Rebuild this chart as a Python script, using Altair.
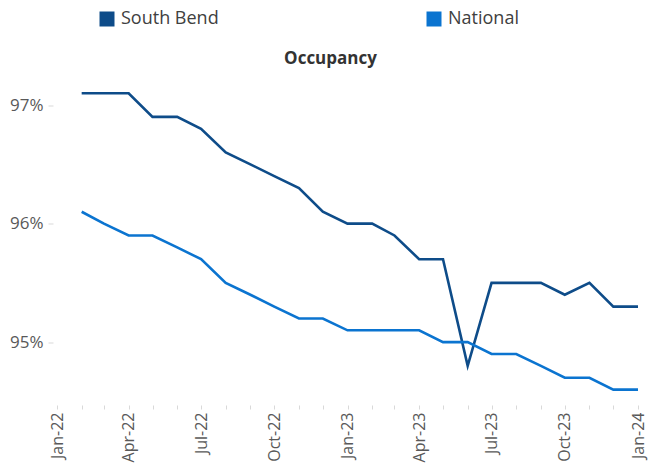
import altair as alt
import pandas as pd

months = ["2022-02-01", "2022-03-01", "2022-04-01", "2022-05-01", "2022-06-01", "2022-07-01",
          "2022-08-01", "2022-09-01", "2022-10-01", "2022-11-01", "2022-12-01", "2023-01-01",
          "2023-02-01", "2023-03-01", "2023-04-01", "2023-05-01", "2023-06-01", "2023-07-01",
          "2023-08-01", "2023-09-01", "2023-10-01", "2023-11-01", "2023-12-01", "2024-01-01"]
south_bend = [97.1, 97.1, 97.1, 96.9, 96.9, 96.8, 96.6, 96.5, 96.4, 96.3, 96.1, 96.0,
              96.0, 95.9, 95.7, 95.7, 94.8, 95.5, 95.5, 95.5, 95.4, 95.5, 95.3, 95.3]
national = [96.1, 96.0, 95.9, 95.9, 95.8, 95.7, 95.5, 95.4, 95.3, 95.2, 95.2, 95.1,
            95.1, 95.1, 95.1, 95.0, 95.0, 94.9, 94.9, 94.8, 94.7, 94.7, 94.6, 94.6]
series_names = ["South Bend", "National"]
series_colors = ["#0E4C89", "#0B74D0"]
y_ticks = [95, 96, 97]

df = pd.concat([
    pd.DataFrame({"date": months, "value": south_bend, "series": series_names[0]}),
    pd.DataFrame({"date": months, "value": national, "series": series_names[1]}),
])

tick_months = [alt.DateTime(year=2022 + (i // 12), month=(i % 12) + 1, date=1, utc=True) for i in range(25)]

FONT = "Open Sans"

x_enc = alt.X("date:T",
              scale=alt.Scale(type="utc",
                              domain=[alt.DateTime(year=2022, month=1, date=1, utc=True),
                                      alt.DateTime(year=2024, month=1, date=1, utc=True)]),
              axis=alt.Axis(title=None, values=tick_months, grid=False, domain=False,
                            labelExpr="utcmonth(datum.value) % 3 == 0 ? utcFormat(datum.value, '%b-%y') : ''",
                            labelAngle=270, labelFont=FONT, labelFontSize=16, labelColor="#595959",
                            tickColor="#d9d9d9", tickSize=4, labelPadding=3, labelOverlap=False,
                            labelBound=False, labelFlush=False))
y_enc = alt.Y("value:Q",
              scale=alt.Scale(domain=[94.47, 97.3], zero=False, nice=False),
              axis=alt.Axis(title=None, values=y_ticks, grid=False, domain=False,
                            labelExpr="datum.value + '%'", labelFont=FONT, labelFontSize=17,
                            labelColor="#595959", tickColor="#d9d9d9", tickSize=5, offset=4,
                            labelPadding=5))
color_scale = alt.Scale(domain=series_names, range=series_colors)
legend = alt.Legend(title=None, orient="none", legendX=41, legendY=-59.5,
                    direction="horizontal", columns=2, columnPadding=206,
                    symbolType="square", symbolSize=225, symbolStrokeWidth=0,
                    symbolOpacity=1,
                    labelFont=FONT, labelFontSize=18,
                    labelColor="#404040", labelOffset=5, padding=0)

legend_layer = alt.Chart(df).mark_square(size=0, filled=True, strokeWidth=0).encode(
    x=x_enc, y=y_enc,
    color=alt.Color("series:N", scale=color_scale, legend=legend),
)

lines = alt.Chart(df).mark_line(strokeWidth=2.6).encode(
    x=x_enc, y=y_enc,
    color=alt.Color("series:N", scale=color_scale, legend=legend),
)

chart = alt.layer(legend_layer, lines).properties(
    width=581,
    height=335.5,
    title=alt.TitleParams("Occupancy", anchor="middle", dx=-17, dy=64, offset=6, font=FONT,
                          fontSize=17, fontWeight="bold", color="#333333"),
    autosize=alt.AutoSizeParams(type="none"),
    padding={"left": 49, "top": 61.5, "right": 16, "bottom": 58},
).configure_view(stroke=None)

chart.save("out.html", embed_options={"renderer": "svg", "actions": False})
